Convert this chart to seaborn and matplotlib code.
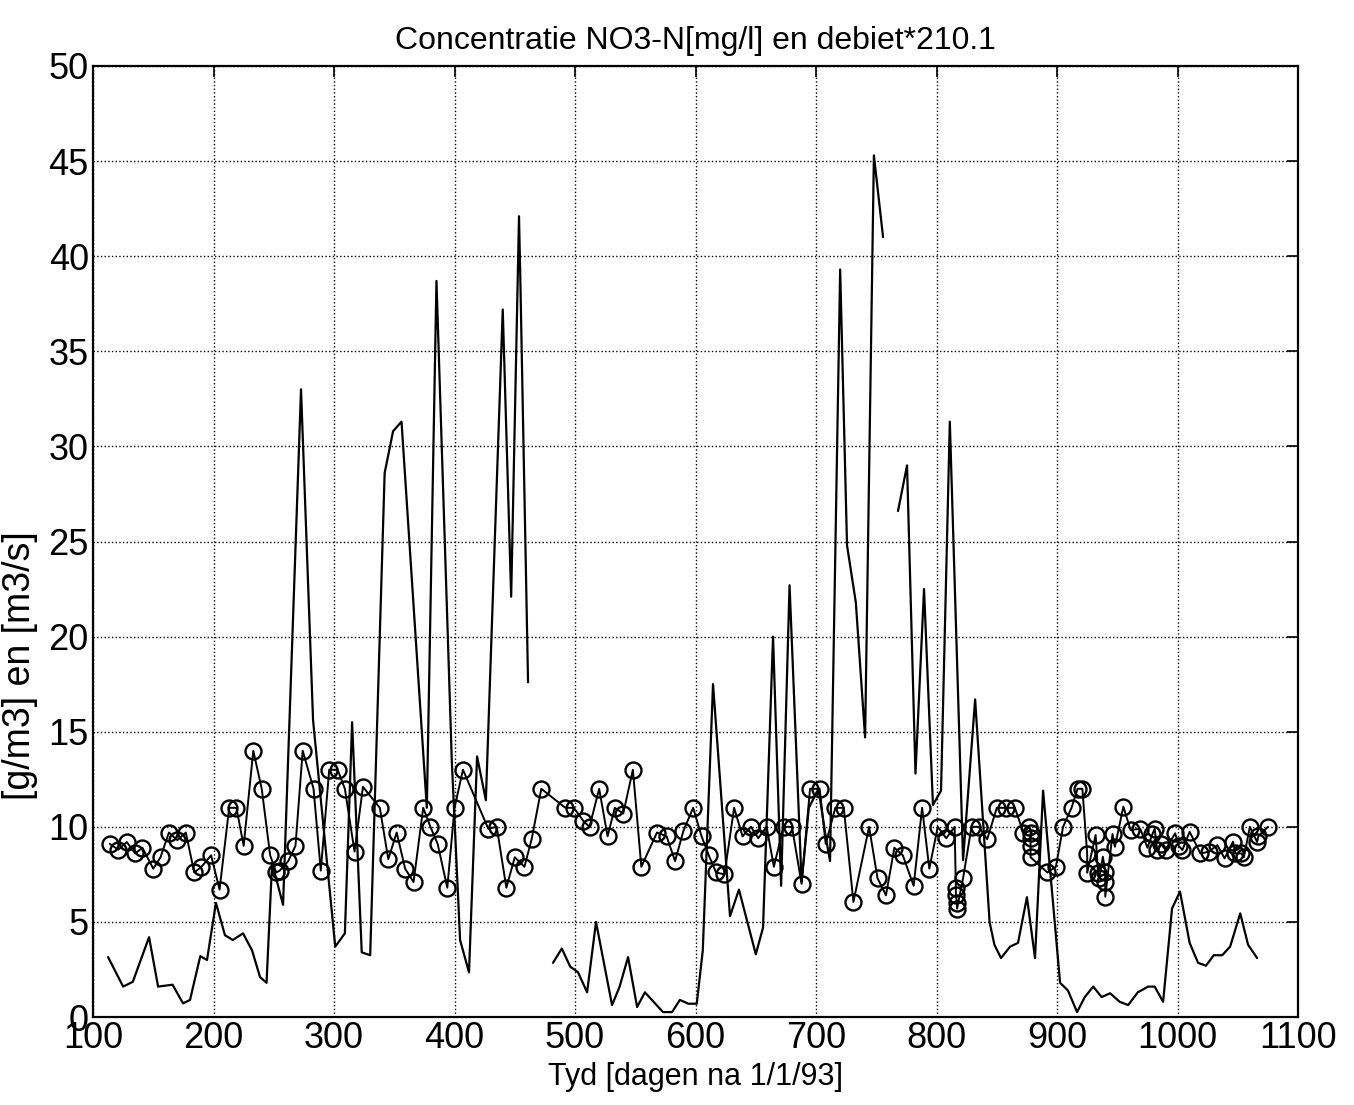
import pandas as pd
import matplotlib
matplotlib.use("Agg")
import matplotlib.pyplot as plt
import seaborn as sns

# concentratie NO3-N (punten met cirkels)
conc_day = [114, 121, 128, 135, 141, 150, 156, 163, 170, 177, 184, 190, 198, 205,
            213, 219, 225, 233, 240, 247, 252, 255, 262, 268, 274, 283, 289, 296,
            303, 309, 317, 324, 338, 345, 352, 359, 366, 374, 380, 386, 394, 400,
            407, 428, 435, 443, 450, 458, 464, 472, 492, 499, 507, 512, 520, 527,
            533, 540, 548, 555, 568, 576, 583, 590, 598, 605, 611, 617, 624, 632,
            639, 646, 652, 659, 665, 673, 680, 688, 695, 703, 708, 716, 723, 731,
            744, 751, 758, 765, 772, 781, 788, 794, 801, 808, 815, 816, 816, 817,
            817, 822, 829, 835, 842, 850, 858, 865, 872, 877, 878, 878, 878, 878,
            892, 899, 905, 912, 917, 921, 925, 925, 932, 934, 935, 938, 940, 940,
            940, 946, 948, 955, 961, 969, 975, 979, 981, 983, 986, 990, 998, 1001,
            1004, 1010, 1019, 1026, 1033, 1039, 1046, 1048, 1053, 1055, 1060, 1066,
            1067, 1075]
conc_val = [9.1, 8.8, 9.2, 8.6, 8.9, 7.8, 8.4, 9.7, 9.3, 9.7, 7.6, 7.9, 8.5, 6.7,
            11.0, 11.0, 9.0, 14.0, 12.0, 8.5, 7.6, 7.7, 8.2, 9.0, 14.0, 12.0, 7.7, 13.0,
            13.0, 12.0, 8.7, 12.1, 11.0, 8.3, 9.7, 7.8, 7.1, 11.0, 10.0, 9.1, 6.8, 11.0,
            13.0, 9.9, 10.0, 6.8, 8.4, 7.9, 9.35, 12.0, 11.0, 11.0, 10.3, 10.0, 12.0, 9.5,
            11.0, 10.7, 13.0, 7.9, 9.7, 9.5, 8.2, 9.8, 11.0, 9.5, 8.5, 7.6, 7.5, 11.0,
            9.5, 10.0, 9.4, 10.0, 7.9, 10.0, 10.0, 7.0, 12.0, 12.0, 9.1, 11.0, 11.0, 6.05,
            10.0, 7.3, 6.4, 8.9, 8.5, 6.9, 11.0, 7.8, 10.0, 9.4, 10.0, 6.8, 6.4, 6.0,
            5.7, 7.3, 10.0, 10.0, 9.35, 11.0, 11.0, 11.0, 9.7, 10.0, 9.7, 9.4, 9.0, 8.4,
            7.6, 7.9, 10.0, 11.0, 12.0, 12.0, 8.57, 7.59, 9.57, 7.56, 7.3, 8.43, 7.64, 7.11,
            6.33, 9.62, 8.95, 11.06, 9.83, 9.9, 8.9, 9.6, 9.9, 8.8, 9.1, 8.8, 9.66, 9.0,
            8.78, 9.74, 8.6, 8.69, 9.04, 8.34, 9.22, 8.6, 8.6, 8.4, 10.0, 9.2,
            9.5, 10.0]

# debiet*210.1, drie losse stukken
flow1_day = [112.5, 125, 133, 146.5, 154, 166, 174.7, 180.5, 189, 194.6, 202, 209.5,
             216, 224.5, 232, 238.6, 244, 248.6, 257.7, 272.6, 282.6, 301, 309, 315,
             323, 330, 342, 349, 356, 377, 385, 397.7, 404.6, 412, 418.7, 426, 440,
             447, 453.5, 454.5, 461]
flow1_val = [3.15, 1.6, 1.85, 4.2, 1.6, 1.7, 0.72, 0.9, 3.2, 3.0, 6.0, 4.3,
             4.05, 4.4, 3.5, 2.1, 1.8, 8.1, 5.9, 33.0, 15.6, 3.7, 4.4, 15.5,
             3.4, 3.25, 28.6, 30.8, 31.3, 11.0, 38.7, 13.5, 4.05, 2.35, 13.7, 11.4, 37.2,
             22.1, 42.1, 39.1, 17.6]

flow2_day = [481.7, 489, 496, 502.5, 510, 517.4, 530.7, 537, 544, 551.5, 558, 573,
             580.5, 587, 594, 601, 606, 614.5, 628.6, 636, 650, 656, 664.3, 671, 678,
             688, 694, 702, 708, 711.6, 720, 725.7, 733, 740.7, 748, 755.6]
flow2_val = [2.85, 3.6, 2.65, 2.35, 1.3, 5.0, 0.63, 1.6, 3.15, 0.53, 1.3, 0.26,
             0.26, 0.9, 0.7, 0.7, 3.5, 17.5, 5.3, 6.7, 3.3, 4.7, 20.0, 6.9, 22.7,
             7.1, 11.0, 12.0, 9.5, 8.2, 39.3, 24.8, 21.8, 14.7, 45.3, 41.0]

flow3_day = [768, 775.5, 782.5, 789.6, 797, 803.7, 811, 822, 832, 844, 848, 853.5,
             861, 867.6, 875, 881.7, 888.4, 902.5, 909, 916.6, 923, 930, 937, 944,
             952, 959, 967, 975.5, 981, 988, 995.4, 1002, 1010, 1017, 1023.6, 1030,
             1037, 1043.6, 1052, 1058.5, 1066]
flow3_val = [26.6, 29.0, 12.8, 22.5, 11.15, 11.9, 31.3, 8.25, 16.7, 5.0, 3.8, 3.1,
             3.7, 3.9, 6.3, 3.1, 11.9, 1.8, 1.4, 0.26, 1.05, 1.6, 1.05, 1.25,
             0.8, 0.63, 1.3, 1.6, 1.6, 0.8, 5.7, 6.6, 3.9, 2.85, 2.7, 3.25,
             3.25, 3.7, 5.45, 3.8, 3.1]

flow = pd.concat([
    pd.DataFrame({"dag": flow1_day, "waarde": flow1_val, "stuk": 1}),
    pd.DataFrame({"dag": flow2_day, "waarde": flow2_val, "stuk": 2}),
    pd.DataFrame({"dag": flow3_day, "waarde": flow3_val, "stuk": 3}),
])
conc = pd.DataFrame({"dag": conc_day, "waarde": conc_val, "stuk": 0})

sns.set_style("white")
plt.rcParams["font.family"] = ["Liberation Sans", "DejaVu Sans"]
plt.rcParams["text.color"] = "black"
plt.rcParams["axes.labelcolor"] = "black"
plt.rcParams["xtick.color"] = "black"
plt.rcParams["ytick.color"] = "black"

fig = plt.figure(figsize=(13.54, 11.05), dpi=100)
ax = fig.add_axes([0.0687, 0.0796, 0.8900, 0.8607])

sns.lineplot(data=flow, x="dag", y="waarde", units="stuk", estimator=None,
             sort=False, color="black", linewidth=1.6, ax=ax)
sns.lineplot(data=conc, x="dag", y="waarde", units="stuk", estimator=None,
             sort=False, color="black", linewidth=1.4, marker="o", markersize=11.5,
             markerfacecolor="none", markeredgecolor="black", markeredgewidth=1.7,
             ax=ax)

ax.set_xlim(100, 1100)
ax.set_ylim(0, 50)
ax.set_xticks(range(100, 1101, 100))
ax.set_yticks(range(0, 51, 5))
ax.grid(True, color="black", linestyle=":", linewidth=1.0)
ax.tick_params(direction="in", length=8, width=1.2, labelsize=26,
               top=True, right=True, pad=3)
for s in ax.spines.values():
    s.set_color("black")
    s.set_linewidth(1.6)

ax.set_title("Concentratie NO3-N[mg/l] en debiet*210.1", fontsize=23, pad=12)
ax.set_xlabel("Tyd [dagen na 1/1/93]", fontsize=22, labelpad=4)
ax.set_ylabel("[g/m3] en [m3/s]", fontsize=27)
ax.yaxis.set_label_coords(-0.046, 0.37)

fig.savefig("out.png", dpi=100)
